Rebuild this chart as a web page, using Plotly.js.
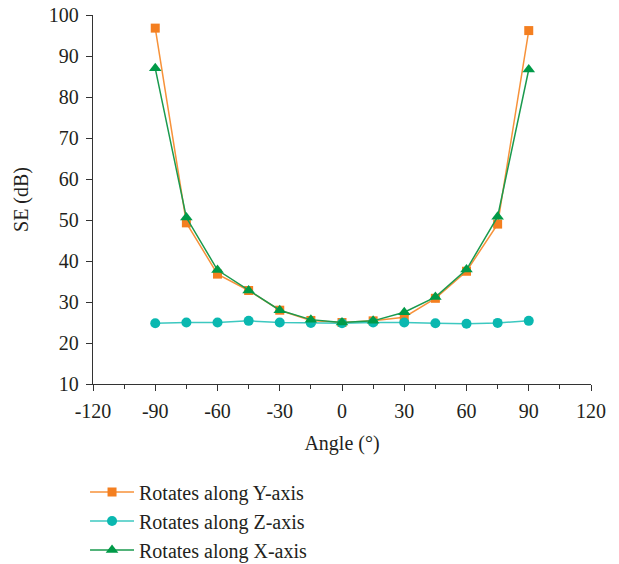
<!DOCTYPE html>
<html>
<head>
<meta charset="utf-8">
<script src="https://cdn.plot.ly/plotly-3.0.1.min.js"></script>
<style>
  html, body { margin: 0; padding: 0; background: #fff; }
  #chart { width: 619px; height: 564px; }
</style>
</head>
<body>
<div id="chart"></div>
<script>
// Rotation angle (degrees)
const angles = [-90, -75, -60, -45, -30, -15, 0, 15, 30, 45, 60, 75, 90];

// Shielding effectiveness (dB) for each rotation axis
const seRotY = [96.8, 49.3, 36.8, 32.8, 28.0, 25.5, 25.0, 25.4, 26.3, 30.9, 37.5, 49.0, 96.2];
const seRotZ = [24.8, 25.0, 25.0, 25.4, 25.0, 24.9, 24.8, 25.0, 25.0, 24.8, 24.7, 24.9, 25.4];
const seRotX = [87.0, 50.6, 37.8, 32.8, 28.0, 25.7, 25.0, 25.4, 27.5, 31.2, 37.9, 50.8, 86.7];

const seriesNames = ['Rotates along Y-axis', 'Rotates along Z-axis', 'Rotates along X-axis'];

// Axis tick positions and labels (plain hyphen for negatives)
const xTickVals = [-120, -90, -60, -30, 0, 30, 60, 90, 120];
const xTickText = ['-120', '-90', '-60', '-30', '0', '30', '60', '90', '120'];
const yTickVals = [10, 20, 30, 40, 50, 60, 70, 80, 90, 100];

const font = 'Liberation Serif, Times New Roman, serif';
const ink = '#231f20';

const traces = [
  {
    x: angles, y: seRotY, name: seriesNames[0], mode: 'lines+markers', type: 'scatter',
    line: { color: '#f7923a', width: 1.5 },
    marker: { symbol: 'square', size: 9, color: '#f47f20' }
  },
  {
    x: angles, y: seRotZ, name: seriesNames[1], mode: 'lines+markers', type: 'scatter',
    line: { color: '#3cc8c0', width: 1.5 },
    marker: { symbol: 'circle', size: 10, color: '#0ab8b0' }
  },
  {
    x: angles, y: seRotX, name: seriesNames[2], mode: 'lines+markers', type: 'scatter',
    line: { color: '#1a9a4e', width: 1.5 },
    marker: { symbol: 'triangle-up', size: 11, color: '#009a48' }
  }
];

const axisCommon = {
  showgrid: false,
  zeroline: false,
  showline: true,
  linecolor: '#333',
  linewidth: 1.2,
  ticks: 'outside',
  ticklen: 6,
  tickwidth: 1,
  tickcolor: '#333',
  ticklabelstandoff: 3,
  tickfont: { family: font, size: 20, color: ink }
};

const layout = {
  width: 619,
  height: 564,
  margin: { l: 93, r: 28, t: 15, b: 180, autoexpand: false },
  paper_bgcolor: '#fff',
  plot_bgcolor: '#fff',
  font: { family: font, color: ink },
  showlegend: true,
  legend: {
    x: -0.016, y: -0.24, xanchor: 'left', yanchor: 'top',
    orientation: 'v',
    font: { family: font, size: 20, color: ink },
    itemwidth: 44
  },
  xaxis: Object.assign({}, axisCommon, {
    range: [-120, 120],
    tickmode: 'array', tickvals: xTickVals, ticktext: xTickText,
    minor: { dtick: 15, tick0: -120, ticks: 'outside', ticklen: 4, tickcolor: '#333' },
    automargin: false,
    title: { text: 'Angle (°)', font: { family: font, size: 20, color: ink }, standoff: 14 }
  }),
  yaxis: Object.assign({}, axisCommon, {
    range: [10, 100],
    tickmode: 'array', tickvals: yTickVals,
    automargin: false,
    title: { text: 'SE (dB)', font: { family: font, size: 20, color: ink }, standoff: 14 }
  })
};

Plotly.newPlot('chart', traces, layout, { displayModeBar: false, staticPlot: true });
</script>
</body>
</html>
